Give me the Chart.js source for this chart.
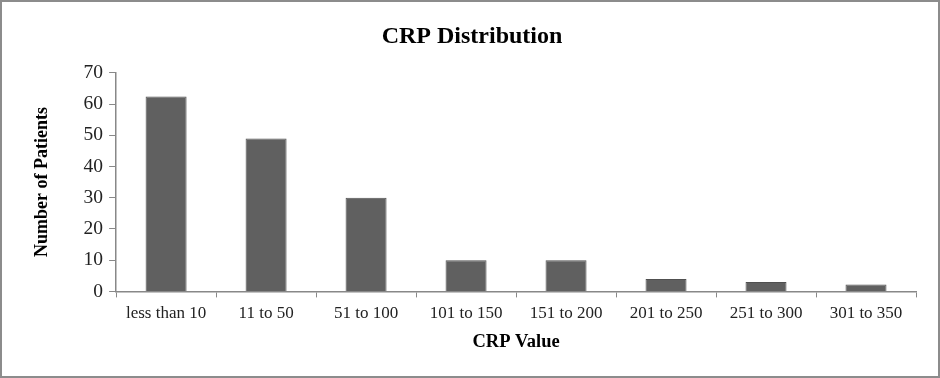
<!DOCTYPE html>
<html lang="en">
<head>
  <meta charset="UTF-8"/>
  <title>CRP Distribution</title>
  <script src="https://cdn.jsdelivr.net/npm/chart.js"></script>
  <style>
    html, body { margin: 0; padding: 0; background: #fff; }
    .frame {
      width: 940px;
      height: 378px;
      box-sizing: border-box;
      border: 2px solid #8c8c8c;
      position: relative;
    }
  </style>
</head>
<body>
<div class="frame">
  <canvas id="crpChart" width="936" height="374"></canvas>
</div>
<script>
  const categories = ['less than 10', '11 to 50', '51 to 100', '101 to 150', '151 to 200', '201 to 250', '251 to 300', '301 to 350'];
  const patients = [62.4, 49, 30, 10, 10, 4, 3, 2.2];
  const yTicks = [0, 10, 20, 30, 40, 50, 60, 70];

  const serif = "'Liberation Serif', 'DejaVu Serif', serif";

  new Chart(document.getElementById('crpChart'), {
    type: 'bar',
    data: {
      labels: categories,
      datasets: [{
        label: 'Number of Patients',
        data: patients,
        backgroundColor: '#606060',
        borderColor: '#505050',
        borderWidth: 1,
        barPercentage: 0.41,
        categoryPercentage: 1.0
      }]
    },
    options: {
      responsive: false,
      animation: false,
      layout: { padding: { top: 20, right: 22, bottom: 19, left: 26 } },
      plugins: {
        legend: { display: false },
        tooltip: { enabled: false },
        title: {
          display: true,
          text: 'CRP Distribution',
          color: '#000',
          font: { family: serif, size: 24, weight: 'bold' },
          padding: { top: 0, bottom: 22 }
        }
      },
      scales: {
        x: {
          grid: { display: true, drawOnChartArea: false, drawTicks: true, tickLength: 6, color: '#888', offset: true },
          border: { color: '#888', width: 1.5 },
          ticks: { color: '#222', font: { family: serif, size: 17 }, padding: 6, maxRotation: 0 },
          title: {
            display: true,
            text: 'CRP Value',
            color: '#000',
            font: { family: serif, size: 18.5, weight: 'bold' },
            padding: { top: 1 }
          }
        },
        y: {
          min: 0,
          max: 70,
          afterBuildTicks: axis => { axis.ticks = yTicks.map(v => ({ value: v })); },
          grid: { display: true, drawOnChartArea: false, drawTicks: true, tickLength: 7, color: '#888' },
          border: { color: '#888', width: 1.5 },
          ticks: { color: '#222', font: { family: serif, size: 19.5 }, padding: 6 },
          title: {
            display: true,
            text: 'Number of Patients',
            color: '#000',
            font: { family: serif, size: 18, weight: 'bold' },
            padding: { bottom: 24 }
          }
        }
      }
    }
  });
</script>
</body>
</html>
